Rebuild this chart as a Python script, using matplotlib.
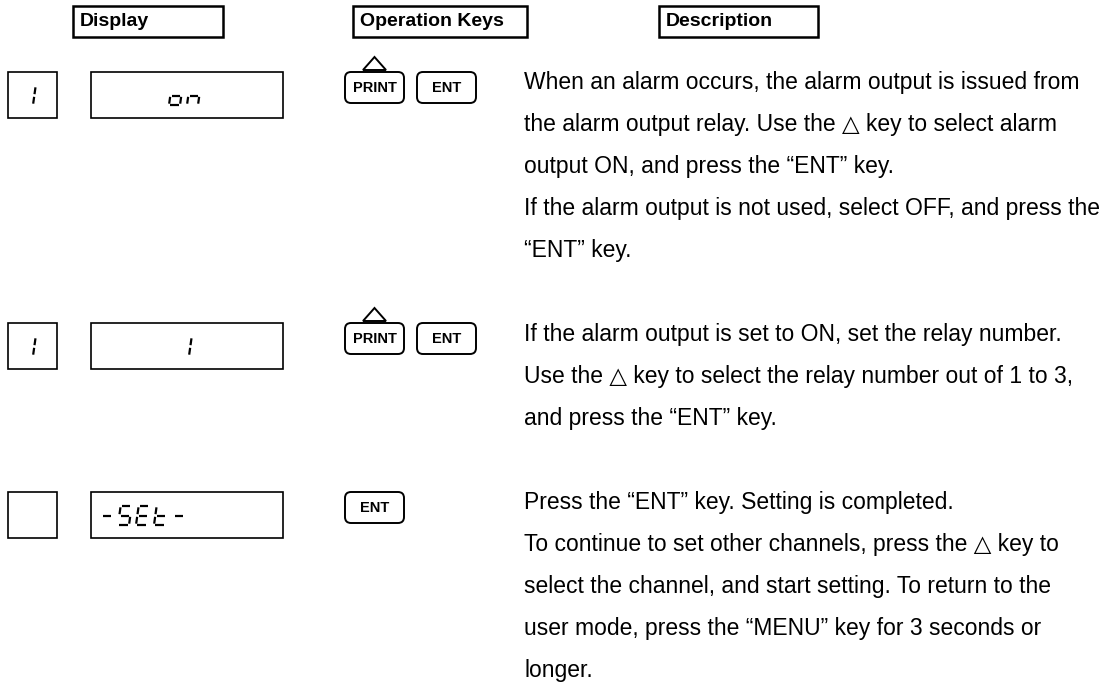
import matplotlib
matplotlib.use("Agg")
import matplotlib.pyplot as plt
from matplotlib.patches import Rectangle, FancyBboxPatch, Polygon

plt.rcParams['font.family'] = ['Liberation Sans', 'DejaVu Sans']

# column headers
headers = ["Display", "Operation Keys", "Description"]
header_x = [(73, 223), (353, 527), (659, 818)]

# what the display shows in each step (small box, main box)
disp_small = ["1", "1", ""]
disp_main = ["on", "1", "-SEt-"]
disp_align = ["center", "center", "left"]

# keys used in each step
keys = [["PRINT", "ENT"], ["PRINT", "ENT"], ["ENT"]]

# description text, one list of lines per step
desc = [
    ["When an alarm occurs, the alarm output is issued from",
     "the alarm output relay. Use the \u25b3 key to select alarm",
     "output ON, and press the \u201cENT\u201d key.",
     "If the alarm output is not used, select OFF, and press the",
     "\u201cENT\u201d key."],
    ["If the alarm output is set to ON, set the relay number.",
     "Use the \u25b3 key to select the relay number out of 1 to 3,",
     "and press the \u201cENT\u201d key."],
    ["Press the \u201cENT\u201d key. Setting is completed.",
     "To continue to set other channels, press the \u25b3 key to",
     "select the channel, and start setting. To return to the",
     "user mode, press the \u201cMENU\u201d key for 3 seconds or",
     "longer."],
]
row_top = [72, 323, 492]
line_y0 = [83, 334, 502]
line_gap = 42

# seven segment map
SEG = {"1": "bc", "o": "cdeg", "n": "ceg", "-": "g",
       "S": "afgcd", "E": "afged", "t": "fegd"}


def draw_char(ax, ch, x, ybase, w=11, h=19, slant=0.14):
    pts = {"a": ((0, 1), (1, 1)), "b": ((1, 1), (1, 0.5)),
           "c": ((1, 0.5), (1, 0)), "d": ((0, 0), (1, 0)),
           "e": ((0, 0), (0, 0.5)), "f": ((0, 0.5), (0, 1)),
           "g": ((0, 0.5), (1, 0.5))}
    for s in SEG.get(ch, ""):
        (u0, v0), (u1, v1) = pts[s]
        # shrink a little so the segments don't touch
        if u0 == u1:
            v0, v1 = v0 + (0.07 if v1 > v0 else -0.07), v1 - (0.07 if v1 > v0 else -0.07)
        else:
            u0, u1 = u0 + 0.12, u1 - 0.12
        xs = [x + u0 * w + v0 * h * slant, x + u1 * w + v1 * h * slant]
        ys = [ybase - v0 * h, ybase - v1 * h]
        ax.plot(xs, ys, color="black", lw=1.6, solid_capstyle="butt")


def draw_string(ax, s, x, ybase, pitch=18):
    for i, ch in enumerate(s):
        draw_char(ax, ch, x + i * pitch, ybase)


fig = plt.figure(figsize=(11.11, 6.84), dpi=100)
ax = fig.add_axes([0, 0, 1, 1])
ax.set_xlim(0, 1111)
ax.set_ylim(684, 0)
ax.axis("off")

for name, (x0, x1) in zip(headers, header_x):
    ax.add_patch(Rectangle((x0, 6), x1 - x0, 31, fill=False, lw=1.8, ec="black"))
    ax.text(x0 + 7, 22, name, fontsize=14, fontweight="bold", va="center", ha="left")

for i in range(3):
    top = row_top[i]
    # small and main display boxes
    ax.add_patch(Rectangle((8, top), 49, 46, fill=False, lw=1.2, ec="black"))
    ax.add_patch(Rectangle((91, top), 192, 46, fill=False, lw=1.2, ec="black"))
    draw_string(ax, disp_small[i], 22, top + 33)
    if disp_align[i] == "center":
        sx = 187 - len(disp_main[i]) * 18 / 2
    else:
        sx = 100
    draw_string(ax, disp_main[i], sx, top + 33)

    # keys
    kx = 345
    for k in keys[i]:
        ax.add_patch(FancyBboxPatch((kx, top), 59, 31, boxstyle="round,pad=0,rounding_size=6",
                                    fill=False, lw=1.4, ec="black"))
        ax.text(kx + 29.5, top + 16, k, fontsize=10.5, fontweight="bold", ha="center", va="center")
        if k == "PRINT":
            ax.add_patch(Polygon([(kx + 18, top - 2), (kx + 41, top - 2), (kx + 29.5, top - 15)],
                                 closed=True, fill=False, lw=1.4, ec="black"))
        kx += 72

    for j, line in enumerate(desc[i]):
        ax.text(524, line_y0[i] + j * line_gap, line, fontsize=16.5, va="center", ha="left")

fig.savefig("out.png", dpi=100)
